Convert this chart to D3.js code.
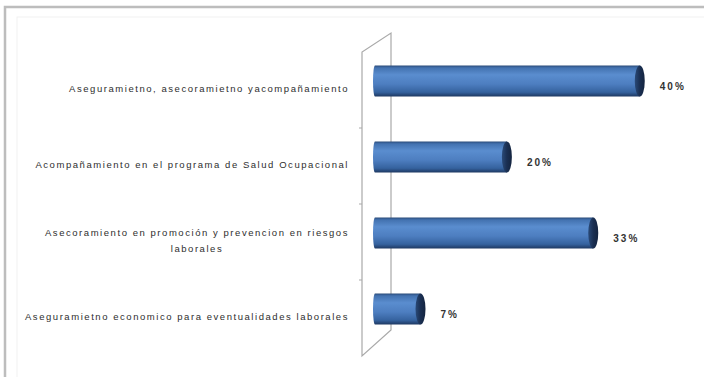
<!DOCTYPE html>
<html>
<head>
<meta charset="utf-8">
<script src="https://cdn.jsdelivr.net/npm/d3@7/dist/d3.min.js"></script>
<style>
  html, body { margin: 0; padding: 0; background: #fff; }
  svg { display: block; }
  .cat { font-family: "Liberation Sans", Arial, sans-serif; font-size: 9.5px; fill: #2e2e2e; letter-spacing: 1.55px; }
  .val { font-family: "Liberation Sans", Arial, sans-serif; font-size: 10px; font-weight: bold; fill: #333; letter-spacing: 2px; }
</style>
</head>
<body>
<svg id="chart" width="704" height="377"></svg>
<script>
// Service categories (the third one wraps onto two lines)
const categories = [
  ["Aseguramietno, asecoramietno yacompañamiento"],
  ["Acompañamiento en el programa de Salud Ocupacional"],
  ["Asecoramiento en promoción y prevencion  en riesgos", "laborales"],
  ["Aseguramietno economico para eventualidades laborales"]
];
const values = [0.40, 0.20, 0.33, 0.07];
const valueLabels = ["40%", "20%", "33%", "7%"];

const W = 704, H = 377;
const svg = d3.select("#chart");

const keys = categories.map((c, i) => i);
const data = keys.map(i => ({ i, lines: categories[i], value: values[i], label: valueLabels[i] }));

// Scales
const x = d3.scaleLinear().domain([0, 0.45]).range([374, 673]);
const y = d3.scaleBand().domain(keys).range([43, 347]).paddingInner(0.59).paddingOuter(0.295);
// category labels follow the front edge of the side wall
const yFront = d3.scaleBand().domain(keys).range([50, 354]);

// Outer frame
svg.append("rect").attr("x", 5).attr("y", 7).attr("width", W + 20).attr("height", H + 20)
  .attr("fill", "#fff").attr("stroke", "#bdbdbd").attr("stroke-width", 2.5);
svg.append("rect").attr("x", 17).attr("y", 17).attr("width", W).attr("height", H)
  .attr("fill", "none").attr("stroke", "#f1f1f1").attr("stroke-width", 1);

// Gradients for the cylinders
const defs = svg.append("defs");
const g = defs.append("linearGradient").attr("id", "cyl").attr("x1", 0).attr("y1", 0).attr("x2", 0).attr("y2", 1);
[[0, "#2a4a78"], [0.08, "#4372b0"], [0.3, "#5a8dcf"], [0.6, "#4d7ec0"], [0.86, "#35629e"], [1, "#1d3760"]]
  .forEach(([o, c]) => g.append("stop").attr("offset", o).attr("stop-color", c));
const gc = defs.append("linearGradient").attr("id", "cap").attr("x1", 0).attr("y1", 0).attr("x2", 1).attr("y2", 0);
[[0, "#2a4a78"], [0.5, "#1a2f52"], [1, "#14243f"]]
  .forEach(([o, c]) => gc.append("stop").attr("offset", o).attr("stop-color", c));

// Side wall (3D category axis plane)
const x0 = x(0);
const frontX = x0 - 12, backX = x0 + 17;
const frontTop = 52, frontBot = 356, backTop = 33, backBot = 330;
svg.append("path")
  .attr("d", `M${frontX},${frontBot} L${frontX},${frontTop} L${backX},${backTop} L${backX},${backBot} Z`)
  .attr("fill", "none").attr("stroke", "#a9a9a9").attr("stroke-width", 1.2);
// tick marks between categories on the front edge
const tickYs = keys.slice(1).map(k => frontTop + (frontBot - frontTop) * k / keys.length);
svg.selectAll(".tk").data(tickYs).join("line")
  .attr("x1", frontX - 3).attr("x2", frontX).attr("y1", d => d).attr("y2", d => d)
  .attr("stroke", "#a9a9a9").attr("stroke-width", 1);

// Cylinder bars
const bh = y.bandwidth();
const rx = 5;
const bars = svg.selectAll(".bar").data(data).join("g").attr("class", "bar");
bars.append("path")
  .attr("d", d => {
    const top = y(d.i), bot = top + bh, xs = x0 - 1, xe = x(d.value);
    return `M${xs + 2},${top} L${xe},${top} L${xe},${bot} L${xs + 2},${bot} A2,${bh / 2} 0 0 1 ${xs + 2},${top} Z`;
  })
  .attr("fill", "url(#cyl)");
bars.append("ellipse")
  .attr("cx", d => x(d.value)).attr("cy", d => y(d.i) + bh / 2)
  .attr("rx", rx).attr("ry", bh / 2)
  .attr("fill", "url(#cap)");

// Value labels
svg.selectAll(".val").data(data).join("text").attr("class", "val")
  .attr("x", d => x(d.value) + rx + 15)
  .attr("y", d => y(d.i) + bh / 2 + 5)
  .attr("dominant-baseline", "central")
  .text(d => d.label);

// Category labels, right-aligned against the wall, wrapped lines centred
const labelRight = frontX - 13;
data.forEach(d => {
  const cy = yFront(d.i) + yFront.bandwidth() / 2;
  const n = d.lines.length, lh = 16;
  if (n === 1) {
    svg.append("text").attr("class", "cat").attr("text-anchor", "end")
      .attr("x", labelRight).attr("y", cy).attr("dominant-baseline", "central").text(d.lines[0]);
  } else {
    const t = svg.append("text").attr("class", "cat").attr("text-anchor", "end")
      .attr("x", labelRight).attr("y", cy - lh / 2 * (n - 1)).attr("dominant-baseline", "central").text(d.lines[0]);
    const w = t.node().getComputedTextLength();
    const mid = labelRight - w / 2;
    d.lines.slice(1).forEach((ln, j) => {
      svg.append("text").attr("class", "cat").attr("text-anchor", "middle")
        .attr("x", mid).attr("y", cy - lh / 2 * (n - 1) + lh * (j + 1))
        .attr("dominant-baseline", "central").text(ln);
    });
  }
});
</script>
</body>
</html>
